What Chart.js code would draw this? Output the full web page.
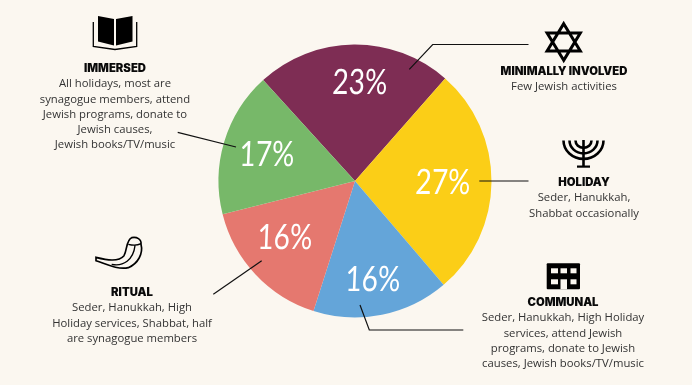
<!DOCTYPE html>
<html>
<head>
<meta charset="utf-8">
<script src="https://cdn.jsdelivr.net/npm/chart.js@4"></script>
<style>
  html, body { margin: 0; padding: 0; background: #fbf7f0; }
  canvas { display: block; }
</style>
</head>
<body>
<canvas id="pie" width="692" height="385"></canvas>
<script>
const categories = ['Minimally involved', 'Holiday', 'Communal', 'Ritual', 'Immersed'];
const shares = [23, 27, 16, 16, 17];
const sliceColors = ['#7e2d54', '#fbce17', '#64a5d9', '#e5786f', '#77b869'];
const shareSpots = [[360, 83], [443, 183], [373, 280], [285, 238], [267, 155]];

const captions = [
  { x: 115, y: 69, title: 'IMMERSED', lines: ['All holidays, most are', 'synagogue members, attend', 'Jewish programs, donate to', 'Jewish causes,', 'Jewish books/TV/music'] },
  { x: 564, y: 72, title: 'MINIMALLY INVOLVED', lines: ['Few Jewish activities'] },
  { x: 584, y: 183, title: 'HOLIDAY', lines: ['Seder, Hanukkah,', 'Shabbat occasionally'] },
  { x: 563, y: 303, title: 'COMMUNAL', lines: ['Seder, Hanukkah, High Holiday', 'services, attend Jewish', 'programs, donate to Jewish', 'causes, Jewish books/TV/music'] },
  { x: 132, y: 293, title: 'RITUAL', lines: ['Seder, Hanukkah, High', 'Holiday services, Shabbat, half', 'are synagogue members'] },
];

const leaders = [
  [[409.3, 69.3], [432.7, 44.5], [528.5, 44.5]],
  [[479.3, 181], [528.5, 181]],
  [[360, 305], [369.3, 330], [463.3, 330]],
  [[261.7, 260.7], [213.3, 294.3]],
  [[177.7, 132.3], [236, 147]],
];

function drawIcons(ctx) {
  ctx.save();
  ctx.fillStyle = '#000';
  ctx.strokeStyle = '#000';
  ctx.lineJoin = 'miter';

  // book
  ctx.lineWidth = 1.3;
  ctx.beginPath();
  ctx.moveTo(98, 16); ctx.lineTo(114, 19); ctx.lineTo(114, 45.5); ctx.lineTo(98, 41.5); ctx.closePath();
  ctx.moveTo(132.5, 16); ctx.lineTo(116, 19); ctx.lineTo(116, 45.5); ctx.lineTo(132.5, 41.5); ctx.closePath();
  ctx.fill();
  ctx.beginPath();
  ctx.moveTo(93.3, 22); ctx.lineTo(93.3, 46.5); ctx.lineTo(115, 49.5); ctx.lineTo(136.7, 46.5); ctx.lineTo(136.7, 22);
  ctx.stroke();

  // star
  ctx.lineWidth = 3;
  ctx.beginPath();
  ctx.moveTo(563.7, 23.7); ctx.lineTo(580.3, 51); ctx.lineTo(547.1, 51); ctx.closePath();
  ctx.moveTo(563.7, 60.3); ctx.lineTo(547.1, 33); ctx.lineTo(580.3, 33); ctx.closePath();
  ctx.stroke();

  // menorah
  ctx.lineWidth = 2.6;
  [20, 14, 8].forEach(r => {
    ctx.beginPath();
    ctx.ellipse(583.5, 140.5, r, r * 0.92, 0, 0, Math.PI);
    ctx.stroke();
  });
  ctx.beginPath();
  ctx.moveTo(583.5, 140); ctx.lineTo(583.5, 166);
  ctx.stroke();
  ctx.fillRect(577, 165.5, 13, 2.2);

  // building
  ctx.beginPath();
  ctx.roundRect(546.7, 263.3, 33.3, 26, 1);
  ctx.fill();
  ctx.fillStyle = '#fbf7f0';
  [[551, 268.3, 7, 5], [560.5, 268.3, 6.5, 5], [570.5, 268.3, 6, 5], [551, 279.3, 7, 5], [560.5, 279.3, 6.5, 10], [570.5, 279.3, 6, 5]]
    .forEach(w => ctx.fillRect(w[0], w[1], w[2], w[3]));

  // shofar, sketched at 3x
  ctx.translate(40, 225);
  ctx.scale(1 / 3, 1 / 3);
  ctx.lineWidth = 5;
  ctx.stroke(new Path2D('M168 97 C200 105 235 112 252 92 C262 75 258 45 275 38 C290 35 305 42 303 58 C310 85 295 115 265 128 C235 135 200 118 168 107 Z'));
  ctx.lineWidth = 4;
  ctx.stroke(new Path2D('M265 58 C280 62 295 60 303 56 M215 118 C250 125 280 105 285 62'));
  ctx.restore();
}

const decorations = {
  id: 'decorations',
  afterDraw(chart) {
    const ctx = chart.ctx;
    ctx.save();
    ctx.textAlign = 'center';
    ctx.textBaseline = 'middle';

    // percentages, squeezed and leaned to sit closer to the hand lettering
    ctx.fillStyle = '#fff';
    ctx.font = '35px Lato';
    shares.forEach((v, i) => {
      ctx.save();
      ctx.transform(0.8, 0, -0.04, 1, shareSpots[i][0], shareSpots[i][1]);
      ctx.fillText(v + '%', 0, 0);
      ctx.restore();
    });

    // leader lines
    ctx.strokeStyle = '#111';
    ctx.lineWidth = 1.2;
    leaders.forEach(pts => {
      ctx.beginPath();
      pts.forEach((p, i) => i ? ctx.lineTo(p[0], p[1]) : ctx.moveTo(p[0], p[1]));
      ctx.stroke();
    });

    // captions
    captions.forEach(c => {
      ctx.fillStyle = '#0a0a0a';
      ctx.font = '900 11.3px Inter';
      ctx.fillText(c.title, c.x, c.y);
      ctx.fillStyle = '#333';
      ctx.font = '11.3px "Open Sans"';
      c.lines.forEach((line, i) => ctx.fillText(line, c.x, c.y + 15.2 * (i + 1)));
    });
    ctx.restore();

    drawIcons(ctx);
  },
};

new Chart(document.getElementById('pie'), {
  type: 'pie',
  data: {
    labels: categories,
    datasets: [{ data: shares, backgroundColor: sliceColors, borderWidth: 0 }],
  },
  options: {
    responsive: false,
    animation: false,
    rotation: -42.3,
    layout: { padding: { top: 44.5, bottom: 67.5, left: 18, right: 0 } },
    plugins: { legend: { display: false }, tooltip: { enabled: false } },
  },
  plugins: [decorations],
});
</script>
</body>
</html>
